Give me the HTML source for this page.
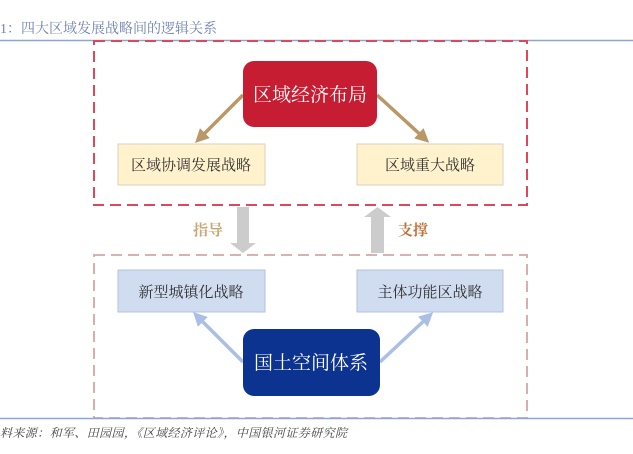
<!DOCTYPE html>
<html><head><meta charset="utf-8"><style>
html,body{margin:0;padding:0;background:#fff;width:633px;height:454px;overflow:hidden}
svg{display:block}
text{font-family:"Liberation Serif","Noto Serif CJK SC","Noto Sans CJK SC",serif}
</style></head><body>
<svg width="633" height="454" viewBox="0 0 633 454" xmlns="http://www.w3.org/2000/svg">
<defs>
<marker id="mt" markerWidth="4" markerHeight="4" refX="2" refY="2" orient="auto" markerUnits="strokeWidth"><path d="M0,0L4,2L0,4Z" fill="#b99767"/></marker>
<marker id="mb" markerWidth="4" markerHeight="4" refX="2" refY="2" orient="auto" markerUnits="strokeWidth"><path d="M0,0L4,2L0,4Z" fill="#a9bfe6"/></marker>
</defs>
<text x="0" y="33" font-size="14" fill="#6f83b3">1：四大区域发展战略间的逻辑关系</text>
<line x1="0" y1="40.5" x2="633" y2="40.5" stroke="#8ea4d2" stroke-width="1.5"/>
<rect x="94" y="41" width="433" height="164" fill="none" stroke="#e0465c" stroke-width="2" stroke-dasharray="11,6"/>
<rect x="94" y="255" width="433" height="163" fill="none" stroke="#d4a6a6" stroke-width="1.8" stroke-dasharray="11,6"/>
<line x1="0" y1="418.5" x2="633" y2="418.5" stroke="#8ea4d2" stroke-width="1.5"/>
<line x1="243" y1="95" x2="200" y2="138" stroke="#b99767" stroke-width="3.5" marker-end="url(#mt)"/>
<line x1="377" y1="95" x2="424" y2="138" stroke="#b99767" stroke-width="3.5" marker-end="url(#mt)"/>
<line x1="243" y1="362" x2="198" y2="317" stroke="#a9bfe6" stroke-width="3.5" marker-end="url(#mb)"/>
<line x1="380" y1="362" x2="428" y2="317" stroke="#a9bfe6" stroke-width="3.5" marker-end="url(#mb)"/>
<rect x="243" y="61" width="134" height="66" rx="11" fill="#c61d32"/>
<text x="310" y="101" font-size="19" fill="#fff" text-anchor="middle">区域经济布局</text>
<rect x="118" y="144" width="147" height="41" fill="#fff2cc" stroke="#d9d2bd"/>
<text x="191" y="170" font-size="15" fill="#333" text-anchor="middle">区域协调发展战略</text>
<rect x="357" y="144" width="146" height="41" fill="#fff2cc" stroke="#d9d2bd"/>
<text x="430" y="170" font-size="15" fill="#333" text-anchor="middle">区域重大战略</text>
<path d="M237,207H249V243H256L243,253L230,243H237Z" fill="#cccccc"/>
<path d="M371,253H384V217H391L377.5,207L364,217H371Z" fill="#cccccc"/>
<text x="193" y="235" font-size="15" font-weight="bold" fill="#c8a878">指导</text>
<text x="398" y="235" font-size="15" font-weight="bold" fill="#c0703a">支撑</text>
<rect x="118" y="270" width="147" height="42" fill="#d0dcf0" stroke="#b3c3de"/>
<text x="191" y="297" font-size="15" fill="#333" text-anchor="middle">新型城镇化战略</text>
<rect x="357" y="270" width="146" height="42" fill="#d0dcf0" stroke="#b3c3de"/>
<text x="430" y="297" font-size="15" fill="#333" text-anchor="middle">主体功能区战略</text>
<rect x="243" y="329" width="137" height="67" rx="11" fill="#0c3390"/>
<text x="311" y="369" font-size="19" fill="#fff" text-anchor="middle">国土空间体系</text>
<text x="0" y="437" font-size="12" font-style="italic" fill="#444" textLength="347" lengthAdjust="spacing">料来源：和军、田园园，《区域经济评论》，中国银河证券研究院</text>
</svg>
</body></html>
